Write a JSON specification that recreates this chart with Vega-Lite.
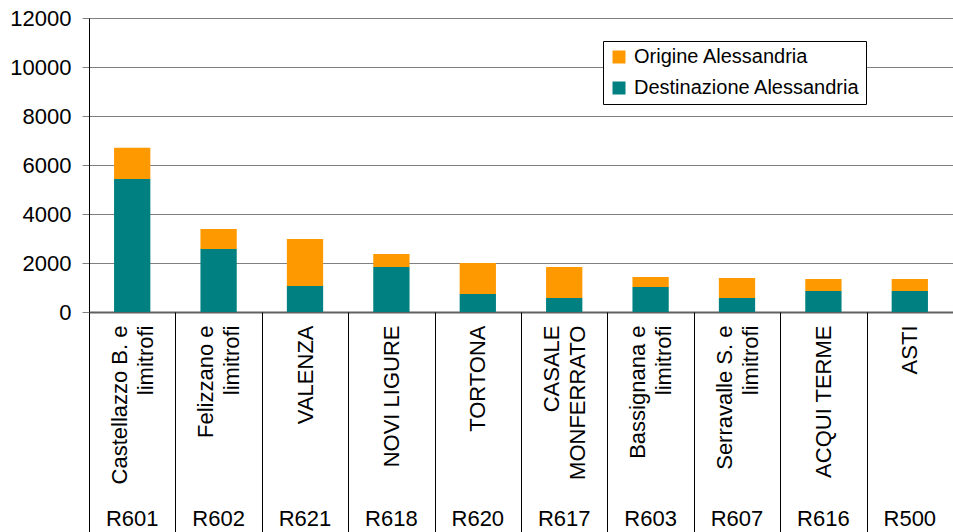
{
  "$schema": "https://vega.github.io/schema/vega-lite/v6.json",
  "autosize": "none",
  "padding": {"left": 89, "top": 18, "right": 0, "bottom": 220},
  "width": 864,
  "height": 294,
  "data": {
    "values": [
      {"codice": "R601", "nome": "Castellazzo B. e\nlimitrofi", "serie": "Destinazione Alessandria", "valore": 5430},
      {"codice": "R601", "nome": "Castellazzo B. e\nlimitrofi", "serie": "Origine Alessandria", "valore": 1270},
      {"codice": "R602", "nome": "Felizzano e\nlimitrofi", "serie": "Destinazione Alessandria", "valore": 2570},
      {"codice": "R602", "nome": "Felizzano e\nlimitrofi", "serie": "Origine Alessandria", "valore": 820},
      {"codice": "R621", "nome": "VALENZA", "serie": "Destinazione Alessandria", "valore": 1060},
      {"codice": "R621", "nome": "VALENZA", "serie": "Origine Alessandria", "valore": 1920},
      {"codice": "R618", "nome": "NOVI LIGURE", "serie": "Destinazione Alessandria", "valore": 1840},
      {"codice": "R618", "nome": "NOVI LIGURE", "serie": "Origine Alessandria", "valore": 530},
      {"codice": "R620", "nome": "TORTONA", "serie": "Destinazione Alessandria", "valore": 735},
      {"codice": "R620", "nome": "TORTONA", "serie": "Origine Alessandria", "valore": 1265},
      {"codice": "R617", "nome": "CASALE\nMONFERRATO", "serie": "Destinazione Alessandria", "valore": 570},
      {"codice": "R617", "nome": "CASALE\nMONFERRATO", "serie": "Origine Alessandria", "valore": 1270},
      {"codice": "R603", "nome": "Bassignana e\nlimitrofi", "serie": "Destinazione Alessandria", "valore": 1020},
      {"codice": "R603", "nome": "Bassignana e\nlimitrofi", "serie": "Origine Alessandria", "valore": 410},
      {"codice": "R607", "nome": "Serravalle S. e\nlimitrofi", "serie": "Destinazione Alessandria", "valore": 570},
      {"codice": "R607", "nome": "Serravalle S. e\nlimitrofi", "serie": "Origine Alessandria", "valore": 820},
      {"codice": "R616", "nome": "ACQUI TERME", "serie": "Destinazione Alessandria", "valore": 860},
      {"codice": "R616", "nome": "ACQUI TERME", "serie": "Origine Alessandria", "valore": 490},
      {"codice": "R500", "nome": "ASTI", "serie": "Destinazione Alessandria", "valore": 860},
      {"codice": "R500", "nome": "ASTI", "serie": "Origine Alessandria", "valore": 490}
    ]
  },
  "layer": [
    {
      "mark": {"type": "bar", "width": {"band": 0.42}},
      "encoding": {
        "x": {
          "field": "codice", "type": "nominal", "sort": null,
          "scale": {"paddingInner": 0, "paddingOuter": 0},
          "axis": {
            "orient": "bottom", "title": null, "ticks": false, "grid": false,
            "domain": true, "domainColor": "#606060", "domainWidth": 2,
            "labelAngle": 0, "labelAlign": "center", "labelBaseline": "alphabetic",
            "labelPadding": 213, "labelFontSize": 22, "labelColor": "#000000",
            "labelOverlap": false
          }
        },
        "y": {
          "field": "valore", "type": "quantitative", "stack": "zero",
          "scale": {"domain": [0, 12000], "nice": false},
          "axis": {
            "title": null, "values": [0, 2000, 4000, 6000, 8000, 10000, 12000], "format": "d",
            "labelFontSize": 22, "labelColor": "#000000", "labelPadding": 11,
            "tickSize": 7, "tickColor": "#808080", "domainColor": "#000000", "domainWidth": 1,
            "grid": true, "gridColor": "#808080", "gridWidth": 1
          }
        },
        "color": {
          "field": "serie", "type": "nominal",
          "scale": {"domain": ["Origine Alessandria", "Destinazione Alessandria"], "range": ["#FF9900", "#008080"]},
          "legend": {
            "orient": "none", "legendX": 514, "legendY": 23, "title": null,
            "direction": "vertical", "labelFontSize": 20, "labelColor": "#000000",
            "symbolType": "square", "symbolSize": 169, "symbolStrokeWidth": 0,
            "padding": 6, "rowPadding": 11, "labelOffset": 5, "labelLimit": 400,
            "strokeColor": "#000000", "fillColor": "#ffffff"
          }
        },
        "order": {"field": "serie", "sort": "ascending"}
      }
    },
    {
      "mark": {"type": "bar", "opacity": 0, "width": {"band": 0.42}},
      "encoding": {
        "x": {
          "field": "nome", "type": "nominal", "sort": null,
          "scale": {"paddingInner": 0, "paddingOuter": 0},
          "axis": {
            "orient": "bottom", "title": null, "domain": false, "grid": false,
            "ticks": true, "tickBand": "extent", "tickSize": 220, "tickColor": "#000000", "tickWidth": 1,
            "labelAngle": -90, "labelAlign": "right", "labelBaseline": "middle",
            "labelPadding": -207, "labelFontSize": 22, "labelColor": "#000000",
            "labelLineHeight": 26, "labelLimit": 400, "labelOverlap": false,
            "labelFlush": false, "labelBound": false,
            "labelOffset": {"condition": {"test": "isValid(datum.value) && indexof(datum.value, '\\n') >= 0", "value": -13}, "value": 0},
            "labelExpr": "isValid(datum.value) ? split(datum.value, '\\n') : ''"
          }
        },
        "y": {"field": "valore", "type": "quantitative", "stack": "zero"}
      }
    }
  ],
  "resolve": {"scale": {"x": "independent"}, "axis": {"x": "independent"}},
  "config": {
    "font": "Liberation Sans",
    "view": {"stroke": null}
  }
}
